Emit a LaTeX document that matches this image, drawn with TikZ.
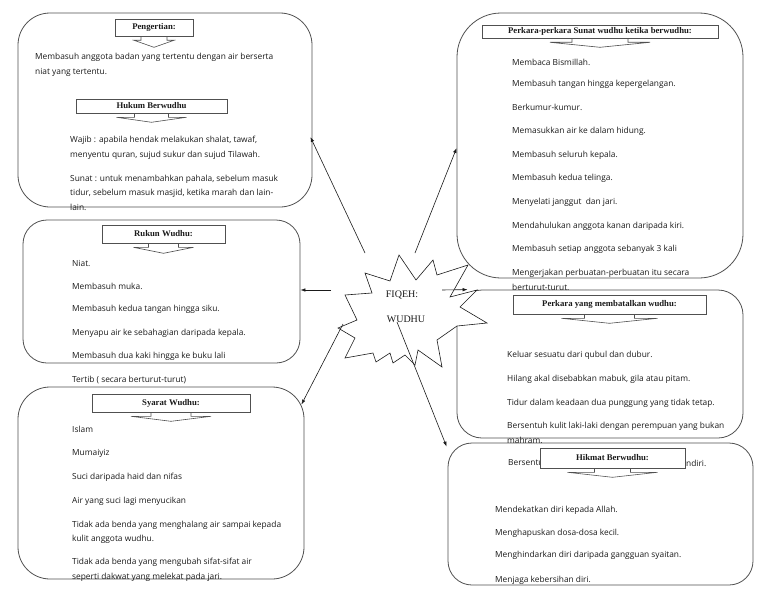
\documentclass[tikz,border=0pt]{standalone}
\usepackage{fontspec}
\usetikzlibrary{arrows.meta}
\newfontfamily\itemfam{Open Sans}
\newfontfamily\titlefam{Liberation Serif}
\definecolor{boxgray}{HTML}{505050}
\definecolor{inkc}{HTML}{1A1A1A}
\newcommand{\calloutarrow}[4]{%
  \draw[titleline] ([xshift=-#2pt]#1.south) -- ++(0,4) -- ++(#2-#3,0) -- ([yshift=-#4pt]#1.south) -- ([xshift=#3pt,yshift=-4pt]#1.south) -- ++(#2-#3,0) -- ++(0,-4);}
\tikzset{
  roundbox/.style={draw=boxgray, line width=0.8pt, inner sep=0pt},
  titlebox/.style={draw=boxgray, fill=white, line width=0.6pt, inner sep=0pt, text=inkc,
    font={\titlefam\bfseries\fontsize{8.7}{9}\selectfont}},
  titleline/.style={draw=boxgray, line width=0.6pt},
  item/.style={anchor=west, inner sep=0pt, text=inkc, font={\itemfam\fontsize{8.35}{9}\selectfont}},
  startext/.style={inner sep=0pt, text=inkc, font={\titlefam\fontsize{10}{11}\selectfont}},
  conn/.style={draw=inkc, line width=0.6pt, -{Latex[length=5pt,width=3.5pt]}},
}
\begin{document}
\begin{tikzpicture}[x=1pt,y=-1pt]
\useasboundingbox[fill=white] (0,0) rectangle (768,594);

% ---- rounded boxes
\node[roundbox, minimum width=294pt, minimum height=194pt, rounded corners=32pt] (b1) at (165,110) {};
\node[roundbox, minimum width=277pt, minimum height=143pt, rounded corners=24pt] (b2) at (161.5,291.5) {};
\node[roundbox, minimum width=286pt, minimum height=192pt, rounded corners=32pt] (b3) at (161,483) {};
\node[roundbox, minimum width=286pt, minimum height=265pt, rounded corners=44pt] (b4) at (600,145.5) {};
\node[roundbox, minimum width=286pt, minimum height=148pt, rounded corners=25pt] (b5) at (600,364) {};
\node[roundbox, minimum width=305pt, minimum height=142pt, rounded corners=24pt] (b6) at (600.5,514) {};

% ---- box 1
\node[item] (p1) at (35,57) {Membasuh anggota badan yang tertentu dengan air berserta};
\node[item] (p2) at (35,72) {niat yang tertentu.};
\node[item] (h1) at (70,140) {Wajib : apabila hendak melakukan shalat, tawaf,};
\node[item] (h2) at (70,155) {menyentu quran, sujud sukur dan sujud Tilawah.};
\node[item] (h3) at (70,179) {Sunat : untuk menambahkan pahala, sebelum masuk};
\node[item] (h4) at (70,193) {tidur, sebelum masuk masjid, ketika marah dan lain-};
\node[item] (h5) at (70,207) {lain.};

% ---- box 2
\node[item] (r1) at (72,263) {Niat.};
\node[item] (r2) at (72,286) {Membasuh muka.};
\node[item] (r3) at (72,309) {Membasuh kedua tangan hingga siku.};
\node[item] (r4) at (72,333) {Menyapu air ke sebahagian daripada kepala.};
\node[item] (r5) at (72,356) {Membasuh dua kaki hingga ke buku lali};
\node[item] (r6) at (72,380) {Tertib ( secara berturut-turut)};

% ---- box 3
\node[item] (s1) at (72,429) {Islam};
\node[item] (s2) at (72,453) {Mumaiyiz};
\node[item] (s3) at (72,477) {Suci daripada haid dan nifas};
\node[item] (s4) at (72,501) {Air yang suci lagi menyucikan};
\node[item] (s5) at (72,525) {Tidak ada benda yang menghalang air sampai kepada};
\node[item] (s6) at (72,539) {kulit anggota wudhu.};
\node[item] (s7) at (72,562) {Tidak ada benda yang mengubah sifat-sifat air};
\node[item] (s8) at (72,577) {seperti dakwat yang melekat pada jari.};

% ---- box 4
\node[item] (u1) at (512,62) {Membaca Bismillah.};
\node[item] (u2) at (512,84) {Membasuh tangan hingga kepergelangan.};
\node[item] (u3) at (512,107) {Berkumur-kumur.};
\node[item] (u4) at (512,131) {Memasukkan air ke dalam hidung.};
\node[item] (u5) at (512,155) {Membasuh seluruh kepala.};
\node[item] (u6) at (512,178) {Membasuh kedua telinga.};
\node[item] (u7) at (512,202) {Menyelati janggut\ \ dan jari.};
\node[item] (u8) at (512,226) {Mendahulukan anggota kanan daripada kiri.};
\node[item] (u9) at (512,249) {Membasuh setiap anggota sebanyak 3 kali};
\node[item] (u10) at (512,273) {Mengerjakan perbuatan-perbuatan itu secara};
\node[item] (u11) at (512,287) {berturut-turut.};

% ---- box 5
\node[item] (m1) at (507,355) {Keluar sesuatu dari qubul dan dubur.};
\node[item] (m2) at (507,379) {Hilang akal disebabkan mabuk, gila atau pitam.};
\node[item] (m3) at (507,403) {Tidur dalam keadaan dua punggung yang tidak tetap.};
\node[item] (m4) at (507,426) {Bersentuh kulit laki-laki dengan perempuan yang bukan};
\node[item] (m5) at (507,440) {mahram.};
\node[item] (m6) at (508,463) {Bersentu};
\node[item] (m7) at (686,463) {ndiri.};

% ---- box 6
\node[item] (k1) at (495,510) {Mendekatkan diri kepada Allah.};
\node[item] (k2) at (495,533) {Menghapuskan dosa-dosa kecil.};
\node[item] (k3) at (495,555) {Menghindarkan diri daripada gangguan syaitan.};
\node[item] (k4) at (495,580) {Menjaga kebersihan diri.};

% ---- title callouts
\node[titlebox, minimum width=78pt, minimum height=17pt] (t1) at (154,27.5) {Pengertian:};
\calloutarrow{t1}{13}{20}{11}
\node[titlebox, minimum width=151pt, minimum height=14pt] (t2) at (151.5,106) {Hukum Berwudhu};
\calloutarrow{t2}{17}{35}{9}
\node[titlebox, minimum width=123pt, minimum height=18pt] (t3) at (163.5,234) {Rukun Wudhu:};
\calloutarrow{t3}{15}{30}{10}
\node[titlebox, minimum width=158pt, minimum height=18pt] (t4) at (171,403) {Syarat Wudhu:};
\calloutarrow{t4}{20}{40}{9}
\node[titlebox, minimum width=236pt, minimum height=13pt] (t5) at (600,31.5) {Perkara-perkara Sunat wudhu ketika berwudhu:};
\calloutarrow{t5}{28}{50}{9}
\node[titlebox, minimum width=193pt, minimum height=19pt] (t6) at (609.5,304.5) {Perkara yang membatalkan wudhu:};
\calloutarrow{t6}{25}{48}{9}
\node[titlebox, minimum width=145pt, minimum height=20pt] (t7) at (612.5,458) {Hikmat Berwudhu:};
\calloutarrow{t7}{18}{45}{9}

% ---- central star
\draw[draw=inkc, fill=white, line width=0.6pt]
 (399,255) -- (416,280) -- (433,260) -- (437,275) -- (468,265) -- (450,297) -- (477,290) -- (460,307)
 -- (487,323) -- (457,326) -- (437,340) -- (442,367) -- (418,350) -- (415,365) -- (405,355) -- (393,363)
 -- (390,353) -- (376,362) -- (373,353) -- (345,358) -- (355,338) -- (338,328) -- (357,320) -- (345,295)
 -- (372,293) -- (365,273) -- (390,281) -- cycle;
\node[startext] (fq) at (402,295) {FIQEH:};
\node[startext] (wd) at (406,319) {WUDHU};

% ---- connectors
\coordinate (c1) at (365,253);
\coordinate (c2) at (415,253);
\coordinate (c3) at (331,290);
\coordinate (c4) at (442,290);
\coordinate (c5) at (343,324);
\coordinate (c6) at (397,322);
\draw[conn] (c1) -- ([xshift=-2pt,yshift=-27pt]b1.east);
\draw[conn] (c2) -- ([yshift=-2.5pt]b4.west);
\draw[conn] (c3) -- (c3 -| b2.east);
\draw[conn] (c4) -- ([xshift=11pt]b5.north west);
\draw[conn] (c5) -- ([xshift=-3pt,yshift=-18pt]b3.north east);
\draw[conn] (c6) -- ([xshift=-1pt,yshift=-4pt]b6.north west);
\end{tikzpicture}
\end{document}
